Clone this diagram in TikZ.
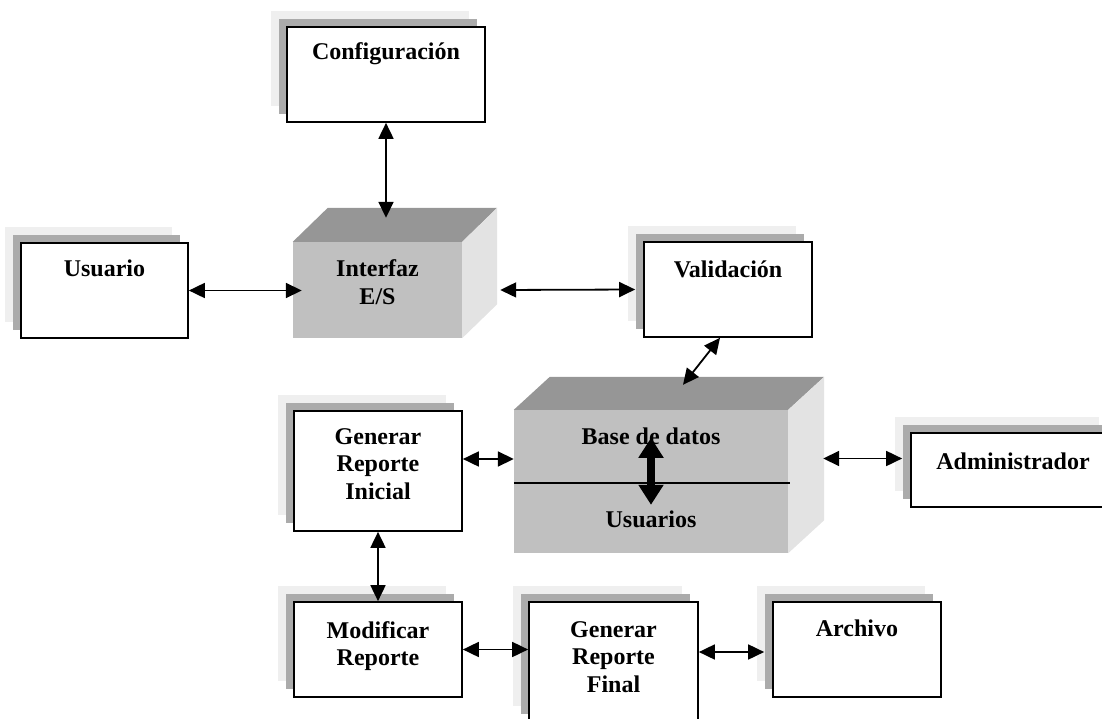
\documentclass[tikz,border=0pt]{standalone}
\usepackage{fontspec}
\setmainfont{Liberation Serif}
\usetikzlibrary{arrows.meta,shadows,calc}
\definecolor{sombraclara}{HTML}{EFEFEF}
\definecolor{sombraoscura}{HTML}{ABABAB}
\definecolor{cubofrente}{HTML}{C0C0C0}
\definecolor{cubotapa}{HTML}{969696}
\definecolor{cubolado}{HTML}{E3E3E3}
\begin{document}
\begin{tikzpicture}[x=1pt,y=-1pt,
   caja/.style={draw=black,line width=1.7pt,fill=white,inner sep=0pt,
     minimum width=168pt,minimum height=95pt,
     general shadow={shadow xshift=-16pt,shadow yshift=16pt,fill=sombraclara},
     general shadow={shadow xshift=-8pt,shadow yshift=8pt,fill=sombraoscura}},
   cara/.style={fill=cubofrente,inner sep=0pt},
   texto/.style={anchor=north,align=center,inner sep=0pt,font=\bfseries\fontsize{24}{27.5}\selectfont},
   flecha/.style={line width=1.8pt,<->,>={Triangle[length=16pt,width=15pt]}},
   gruesa/.style={line width=8pt,<->,>={Triangle[length=20pt,width=24pt]}}]
  \useasboundingbox (0,0) rectangle (1102,719);
  % --- cajas ---
  \node[caja,minimum width=198pt] (config) at (386,74.5) {};
  \node[caja,minimum width=167pt] (usuario) at (104.5,290.5) {};
  \node[caja] (validacion) at (728,289.5) {};
  \node[caja,minimum width=204pt,minimum height=74pt] (adm) at (1013,470) {};
  \node[caja,minimum height=120pt] (gri) at (378,471) {};
  \node[caja] (modificar) at (378,649.5) {};
  \node[caja,minimum width=169pt,minimum height=120pt] (grf) at (613.5,662) {};
  \node[caja] (archivo) at (857,649.5) {};
  % --- cubo Interfaz E/S ---
  \node[cara,minimum width=169pt,minimum height=96pt] (interfaz) at (377.5,290) {};
  \fill[cubotapa] (interfaz.north west) -- ++(35,-34) -- ($(interfaz.north east)+(35,-34)$)
    -- (interfaz.north east) -- cycle;
  \fill[cubolado] (interfaz.north east) -- ++(35,-34) -- ($(interfaz.south east)+(35,-34)$)
    -- (interfaz.south east) -- cycle;
  % --- cubo Base de datos ---
  \node[cara,minimum width=274pt,minimum height=143pt] (base) at (651,481.5) {};
  \fill[cubotapa] (base.north west) -- ++(36,-33) -- ($(base.north east)+(36,-33)$)
    -- (base.north east) -- cycle;
  \fill[cubolado] (base.north east) -- ++(36,-33) -- ($(base.south east)+(36,-33)$)
    -- (base.south east) -- cycle;
  \draw[line width=1.4pt] ([yshift=-1.5pt]base.west) -- ([yshift=-1.5pt,xshift=2pt]base.east);
  % --- textos ---
  \node[texto] (config-t) at ([yshift=-16pt]config.north) {Configuración};
  \node[texto] (usuario-t) at ([yshift=-17pt]usuario.north) {Usuario};
  \node[texto] (validacion-t) at ([yshift=-19pt]validacion.north) {Validación};
  \node[texto] (adm-t) at ([yshift=-20pt]adm.north) {Administrador};
  \node[texto] (gri-t) at ([yshift=-18pt]gri.north) {Generar\\Reporte\\Inicial};
  \node[texto] (modificar-t) at ([yshift=-20pt]modificar.north) {Modificar\\Reporte};
  \node[texto] (grf-t) at ([yshift=-20pt]grf.north) {Generar\\Reporte\\Final};
  \node[texto] (archivo-t) at ([yshift=-18pt]archivo.north) {Archivo};
  \node[texto] (interfaz-t) at ([yshift=-18pt]interfaz.north) {Interfaz\\E/S};
  \node[texto] (base-t) at ([yshift=-18pt]base.north) {Base de datos};
  \node[texto] (usuarios-t) at ([yshift=-101pt]base.north) {Usuarios};
  % --- puntos de llegada ---
  \coordinate (interfaz-tapa) at ([yshift=24pt]interfaz.north);
  \coordinate (base-tapa) at ([shift={(32,-25)}]base.north);
  \coordinate (base-lado) at ([xshift=35pt,yshift=23pt]base.east);
  \coordinate (adm-in) at ([xshift=-8pt]adm.west);
  \coordinate (archivo-in) at ([xshift=-8pt]archivo.west);
  \coordinate (bd-arriba) at ([yshift=-28pt]base.north);
  \coordinate (bd-abajo) at ([yshift=-95pt]base.north);
  % --- flechas ---
  \draw[flecha] (config.south) -- (config.south |- interfaz-tapa);
  \draw[flecha] (usuario.east) -- ([xshift=9pt]usuario.east -| interfaz.west);
  \draw[flecha] ([xshift=38pt]interfaz.east) -- ([xshift=-8pt]validacion.west);
  \draw[flecha] ([xshift=-8pt]validacion.south) -- (base-tapa);
  \draw[flecha] ([yshift=12pt]gri.east) -- ([yshift=12pt]gri.east -| base.west);
  \draw[flecha] (base-lado) -- (base-lado -| adm-in);
  \draw[flecha] (gri.south) -- (modificar.north);
  \draw[flecha] (modificar.east) -- (modificar.east -| grf.west);
  \draw[flecha] ([yshift=10pt]grf.east) -- ([yshift=10pt]grf.east -| archivo-in);
  \draw[gruesa] (bd-arriba) -- (bd-abajo);
\end{tikzpicture}
\end{document}
